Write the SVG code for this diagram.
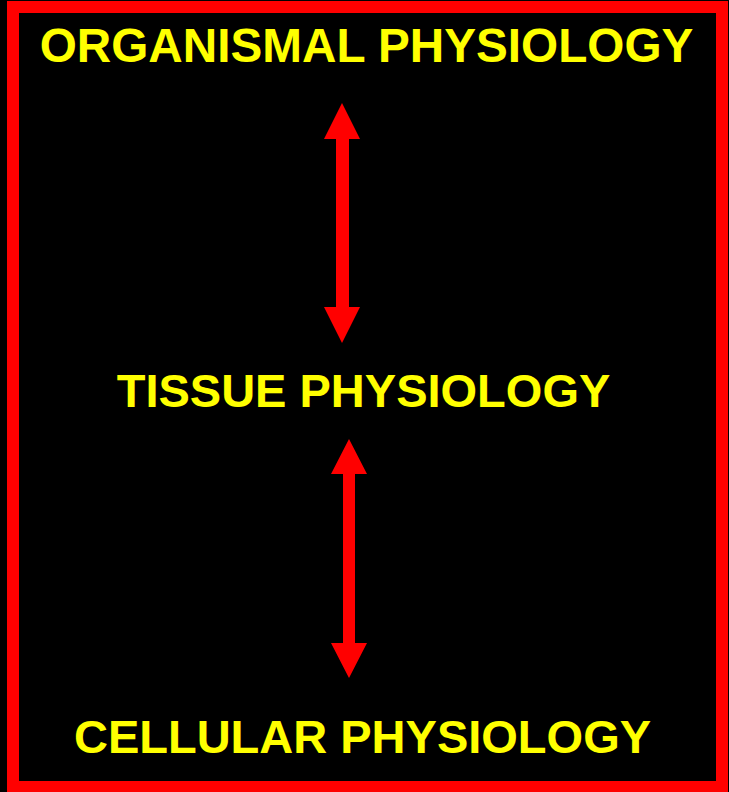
<svg xmlns="http://www.w3.org/2000/svg" width="729" height="792" viewBox="0 0 729 792">
<style>
.lbl{font-family:"Liberation Sans",Arial,sans-serif;font-weight:bold;font-size:47px;fill:#ffff00;text-anchor:middle}
.arr{fill:#ff0000}
</style>
<rect x="0" y="0" width="729" height="792" fill="#000000"/>
<rect x="13" y="7" width="709" height="780" fill="none" stroke="#ff0000" stroke-width="12"/>
<g id="organismal"><text class="lbl" x="366.5" y="62" style="font-size:47.7px">ORGANISMAL PHYSIOLOGY</text></g>
<g id="tissue"><text class="lbl" x="363.5" y="407">TISSUE PHYSIOLOGY</text></g>
<g id="cellular"><text class="lbl" x="362.5" y="753">CELLULAR PHYSIOLOGY</text></g>
<g id="connectors">
<polygon class="arr" points="342,103 360,139 349,139 349,307 360,307 342,343 324,307 336,307 336,139 324,139"/>
<polygon class="arr" points="349,439 367,474 355,474 355,643 367,643 349,678 331,643 343,643 343,474 331,474"/>
</g>
</svg>
